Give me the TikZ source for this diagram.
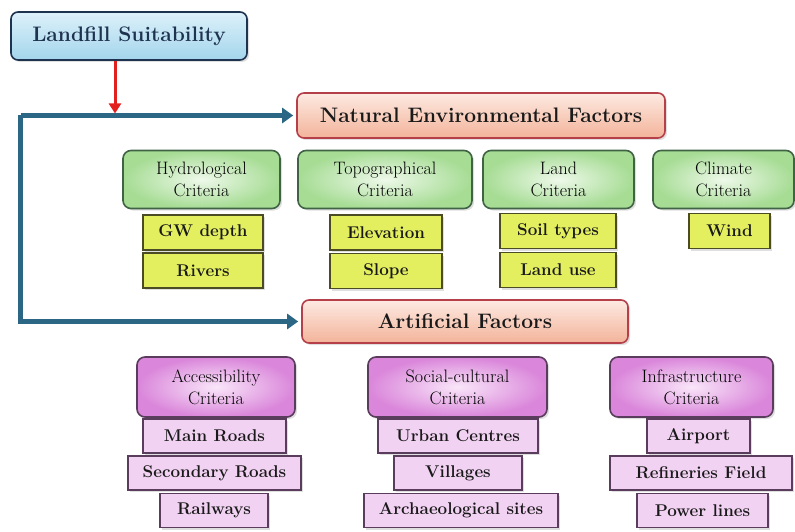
\documentclass[tikz,border=0pt]{standalone}
\usetikzlibrary{arrows.meta,shadows}

\definecolor{navy}{HTML}{1E3350}
\definecolor{flowblue}{HTML}{2B6784}
\definecolor{flowred}{HTML}{E3201E}
\definecolor{skytop}{HTML}{DDF1FA}
\definecolor{skybot}{HTML}{A3D5EC}
\definecolor{peachtop}{HTML}{FDEAE2}
\definecolor{peachbot}{HTML}{F3B39A}
\definecolor{salmonline}{HTML}{B5404A}
\definecolor{greenin}{HTML}{EEF9EA}
\definecolor{greenout}{HTML}{A6DC94}
\definecolor{greenline}{HTML}{3F6344}
\definecolor{yellowfill}{HTML}{E3EF5E}
\definecolor{yellowline}{HTML}{4C4C24}
\definecolor{plumin}{HTML}{F9E6F9}
\definecolor{plumout}{HTML}{DA86DA}
\definecolor{plumline}{HTML}{5A3C5C}
\definecolor{plumfill}{HTML}{F2D2F2}

\begin{document}
\begin{tikzpicture}[x=1pt,y=-1pt,
  box/.style={draw, line width=1.6pt, inner sep=2pt, align=center,
    drop shadow={shadow xshift=2pt, shadow yshift=-2pt, opacity=.25}},
  titlebox/.style={box, rounded corners=7pt, draw=navy, text=navy,
    top color=skytop, bottom color=skybot,
    font=\fontsize{21}{24}\selectfont\bfseries},
  factorbox/.style={box, rounded corners=7pt, draw=salmonline, text=black!90,
    top color=peachtop, bottom color=peachbot,
    font=\fontsize{21}{24}\selectfont\bfseries},
  greenbox/.style={box, rounded corners=8pt, draw=greenline, text=black,
    inner color=greenin, outer color=greenout,
    font=\fontsize{18}{22}\selectfont},
  yellowbox/.style={box, draw=yellowline, fill=yellowfill, text=black!90,
    font=\fontsize{17}{20}\selectfont\bfseries},
  plumbox/.style={box, rounded corners=8pt, draw=plumline, text=black,
    inner color=plumin, outer color=plumout,
    font=\fontsize{18}{22}\selectfont},
  itembox/.style={box, draw=plumline, fill=plumfill, text=black!90,
    font=\fontsize{17}{20}\selectfont\bfseries},
  flow/.style={draw=flowblue, line width=5pt,
    -{Triangle[length=11pt,width=15pt]}, shorten >=3pt}]

% Fix the frame to the size of the page
\useasboundingbox (0,0) rectangle (795,532);

% Row heights:
\def\critH{58}
\def\leafH{35}

%--- Top box and the two factor boxes ---
\node[titlebox, minimum width=236, minimum height=48] (suit) at (129,36) {Landfill Suitability};
\node[factorbox, minimum width=368, minimum height=45] (natural) at (481,115.5) {Natural Environmental Factors};
\node[factorbox, minimum width=326, minimum height=43] (artificial) at (465,321.5) {Artificial Factors};

%--- Natural criteria (green) ---
\node[greenbox, minimum width=157, minimum height=\critH] (hydro) at (201.5,179.5) {Hydrological\\Criteria};
\node[greenbox, minimum width=174, minimum height=\critH] (topo) at (385,179.5) {Topographical\\Criteria};
\node[greenbox, minimum width=151, minimum height=\critH] (land) at (558.5,179.5) {Land\\Criteria};
\node[greenbox, minimum width=141, minimum height=\critH] (climate) at (723.5,179.5) {Climate\\Criteria};

%--- Natural sub-criteria (yellow) ---
\node[yellowbox, minimum width=120, minimum height=\leafH] (gw) at (203,232.5) {GW depth};
\node[yellowbox, minimum width=120, minimum height=\leafH] (rivers) at (203,270.5) {Rivers};
\node[yellowbox, minimum width=112, minimum height=\leafH] (elev) at (386,232.5) {Elevation};
\node[yellowbox, minimum width=112, minimum height=\leafH] (slope) at (386,271) {Slope};
\node[yellowbox, minimum width=116, minimum height=\leafH] (soil) at (558,231) {Soil types};
\node[yellowbox, minimum width=116, minimum height=\leafH] (landuse) at (558,270) {Land use};
\node[yellowbox, minimum width=81, minimum height=\leafH] (wind) at (729.5,231) {Wind};

%--- Artificial criteria (purple) ---
\node[plumbox, minimum width=158, minimum height=60] (access) at (216,387) {Accessibility\\Criteria};
\node[plumbox, minimum width=179, minimum height=60] (social) at (457.5,387) {Social-cultural\\Criteria};
\node[plumbox, minimum width=163, minimum height=60] (infra) at (691.5,387) {Infrastructure\\Criteria};

%--- Artificial sub-criteria ---
\node[itembox, minimum width=143, minimum height=34] (mainrd) at (214.5,436) {Main Roads};
\node[itembox, minimum width=173, minimum height=34] (secrd) at (214.5,473) {Secondary Roads};
\node[itembox, minimum width=108, minimum height=34] (rail) at (214,510.5) {Railways};
\node[itembox, minimum width=160, minimum height=34] (urban) at (458,436) {Urban Centres};
\node[itembox, minimum width=128, minimum height=34] (village) at (458,473) {Villages};
\node[itembox, minimum width=194, minimum height=34] (arch) at (461,510.5) {Archaeological sites};
\node[itembox, minimum width=103, minimum height=34] (airport) at (698.5,436) {Airport};
\node[itembox, minimum width=182, minimum height=34] (refine) at (701,473) {Refineries Field};
\node[itembox, minimum width=131, minimum height=34] (power) at (702.5,510.5) {Power lines};

%--- Connectors ---
\coordinate (corner) at (20.5,115.5);
\coordinate (split) at (115,115.5);
\draw[flow] (corner) -- (natural.west);
\draw[flow] (corner) |- (artificial.west);
\draw[draw=flowred, line width=3pt, -{Triangle[length=10pt,width=12pt]}, shorten >=2pt]
  (split |- suit.south) -- (split);

\end{tikzpicture}
\end{document}
